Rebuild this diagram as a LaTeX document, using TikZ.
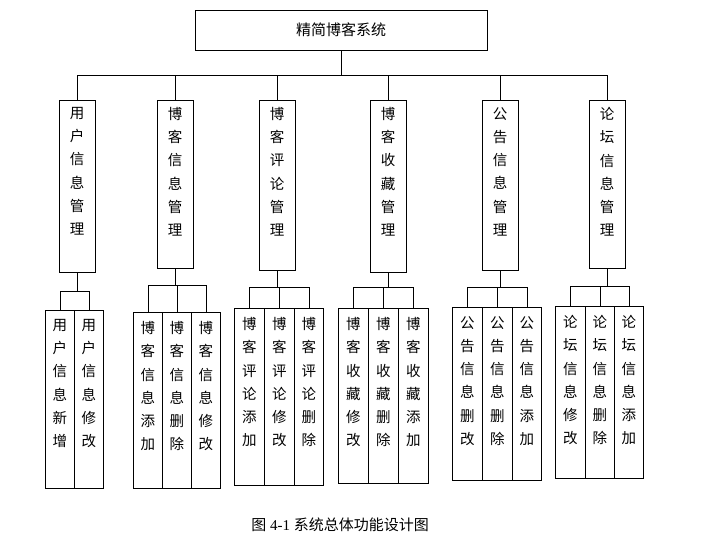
\documentclass[tikz,border=0pt]{standalone}
\usepackage{fontspec}
\setmainfont{Liberation Serif}
\newfontfamily\cjk{Noto Sans CJK SC}
\begin{document}
\begin{tikzpicture}[x=1pt,y=-1pt,
  box/.style={draw,line width=0.8pt,inner sep=0pt},
  txt/.style={font=\cjk\fontsize{14.5}{23.3}\selectfont,align=center,inner sep=0pt},
  ln/.style={line width=0.8pt}]
\useasboundingbox (0,0) rectangle (708,543);
\node[box,minimum width=292,minimum height=40,font=\cjk\fontsize{15}{18}\selectfont] (top) at (341,30) {精简博客系统};
\draw[ln] (top.south) -- (341,75);
\draw[ln] (77,75) -- (607,75);
% level 2
\foreach \n/\x/\b/\t in {a/77/272/用\\户\\信\\息\\管\\理, b/175/268/博\\客\\信\\息\\管\\理, c/277/270/博\\客\\评\\论\\管\\理, d/388/272/博\\客\\收\\藏\\管\\理, e/500/270/公\\告\\信\\息\\管\\理, f/607/268/论\\坛\\信\\息\\管\\理}{
  \node[box,minimum width=36,minimum height=\b-100,anchor=north,
    label={[txt,anchor=north,yshift=-7pt]north:\t}] (\n) at (\x,100) {};
  \draw[ln] (\x,75) -- (\n.north);
}
% level 3
\newcommand\leaf[6]{% name, left, top, bottom, width, text
  \node[box,minimum width=#5,minimum height=#4-#3,anchor=north west,
    label={[txt,anchor=north,yshift=-9pt]north:#6}] (#1) at (#2,#3) {};}
\leaf{a1}{45}{310}{488}{29}{用\\户\\信\\息\\新\\增}
\leaf{a2}{74}{310}{488}{29}{用\\户\\信\\息\\修\\改}
\leaf{b1}{133}{312}{488}{29}{博\\客\\信\\息\\添\\加}
\leaf{b2}{162}{312}{488}{29}{博\\客\\信\\息\\删\\除}
\leaf{b3}{191}{312}{488}{29}{博\\客\\信\\息\\修\\改}
\leaf{c1}{234}{308}{485}{30}{博\\客\\评\\论\\添\\加}
\leaf{c2}{264}{308}{485}{30}{博\\客\\评\\论\\修\\改}
\leaf{c3}{294}{308}{485}{29}{博\\客\\评\\论\\删\\除}
\leaf{d1}{338}{308}{483}{30}{博\\客\\收\\藏\\修\\改}
\leaf{d2}{368}{308}{483}{30}{博\\客\\收\\藏\\删\\除}
\leaf{d3}{398}{308}{483}{30}{博\\客\\收\\藏\\添\\加}
\leaf{e1}{452}{307}{480}{30}{公\\告\\信\\息\\删\\改}
\leaf{e2}{482}{307}{480}{30}{公\\告\\信\\息\\删\\除}
\leaf{e3}{512}{307}{480}{29}{公\\告\\信\\息\\添\\加}
\leaf{f1}{555}{306}{478}{30}{论\\坛\\信\\息\\修\\改}
\leaf{f2}{585}{306}{478}{29}{论\\坛\\信\\息\\删\\除}
\leaf{f3}{614}{306}{478}{29}{论\\坛\\信\\息\\添\\加}
% brackets
\foreach \p/\y/\l/\r in {a/291/a1/a2, b/285/b1/b3, c/287/c1/c3, d/287/d1/d3, e/287/e1/e3, f/286/f1/f3}{
  \draw[ln] (\p.south) -- (\p.south |- 0,\y);
  \draw[ln] (\l.north) -- (\l.north |- 0,\y) -- (\r.north |- 0,\y) -- (\r.north);
}
\foreach \p/\y/\m in {b/285/b2, c/287/c2, d/287/d2, e/287/e2, f/286/f2}{
  \draw[ln] (\m.north) -- (\m.north |- 0,\y);
}
\node[font=\fontsize{15}{18}\selectfont] (cap) at (340,525) {{\cjk 图} 4-1 {\cjk 系统总体功能设计图}};
\end{tikzpicture}
\end{document}
